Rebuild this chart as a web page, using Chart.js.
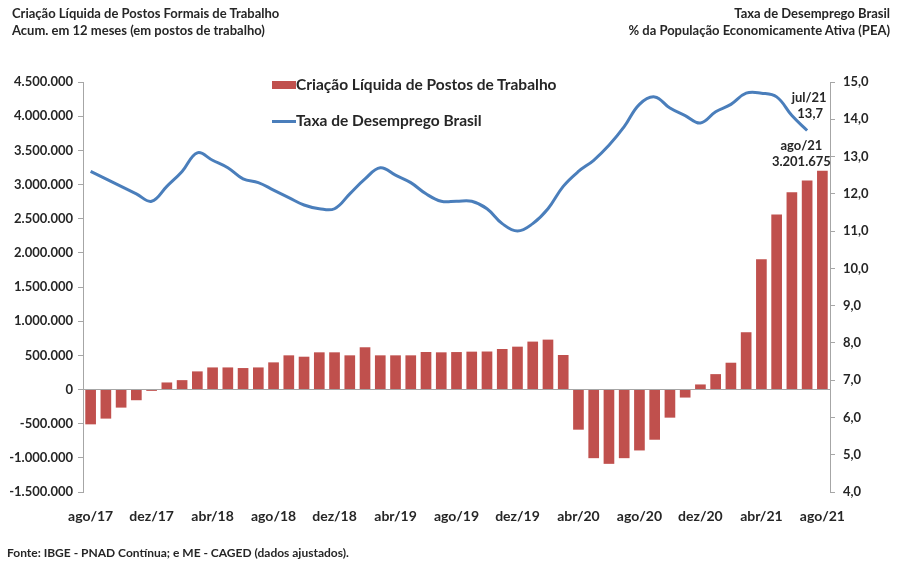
<!DOCTYPE html>
<html>
<head>
<meta charset="utf-8">
<script src="https://cdn.jsdelivr.net/npm/chart.js@4/dist/chart.umd.min.js"></script>
<style>
  body { margin: 0; background: #fff; font-family: Lato, "Open Sans", sans-serif; color: #262626; }
  #wrap { position: relative; width: 898px; height: 561px; }
  canvas { position: absolute; left: 0; top: 0; }
  .txt { position: absolute; font-weight: bold; white-space: nowrap; }
  #titleLeft { left: 12px; top: 5px; font-size: 13px; line-height: 17px; }
  #titleRight { right: 8px; top: 5px; font-size: 13px; line-height: 17px; text-align: right; }
  #footer { left: 7px; top: 545px; font-size: 12px; }
  #legend { left: 272px; top: 75px; font-size: 15.5px; }
  #legend div { height: 36px; display: flex; align-items: flex-start; }
  .box { display: inline-block; width: 24px; height: 8px; background: #c0504d; margin-top: 6px; }
  .ln { display: inline-block; width: 24px; height: 3px; background: #4a7ebb; margin-top: 9px; }
</style>
</head>
<body>
<div id="wrap">
  <canvas id="graphic" width="898" height="561"></canvas>
  <div class="txt" id="titleLeft">Criação Líquida de Postos Formais de Trabalho<br>Acum. em 12 meses (em postos de trabalho)</div>
  <div class="txt" id="titleRight">Taxa de Desemprego Brasil<br>% da População Economicamente Ativa (PEA)</div>
  <div class="txt" id="legend">
    <div><span class="box"></span><span>Criação Líquida de Postos de Trabalho</span></div>
    <div><span class="ln"></span><span>Taxa de Desemprego Brasil</span></div>
  </div>
  <div class="txt" id="footer">Fonte: IBGE - PNAD Contínua; e ME - CAGED (dados ajustados).</div>
</div>
<script>
//months from ago/17 to ago/21
const months = [
  "ago/17","set/17","out/17","nov/17","dez/17",
  "jan/18","fev/18","mar/18","abr/18","mai/18","jun/18","jul/18","ago/18","set/18","out/18","nov/18","dez/18",
  "jan/19","fev/19","mar/19","abr/19","mai/19","jun/19","jul/19","ago/19","set/19","out/19","nov/19","dez/19",
  "jan/20","fev/20","mar/20","abr/20","mai/20","jun/20","jul/20","ago/20","set/20","out/20","nov/20","dez/20",
  "jan/21","fev/21","mar/21","abr/21","mai/21","jun/21","jul/21","ago/21"
];

//net formal jobs, accumulated 12 months (left axis)
const jobs = [
  -510000, -426000, -265000, -157000, -20000,
  103000, 137000, 265000, 323000, 323000, 314000, 323000, 397000, 500000, 480000, 544000, 544000,
  500000, 618000, 500000, 500000, 500000, 549000, 544000, 548000, 554000, 556000, 593000, 627000,
  701000, 730000, 505000, -588000, -1005000, -1088000, -1005000, -892000, -735000, -412000, -118000, 74000,
  225000, 392000, 838000, 1907000, 2561000, 2887000, 3058000, 3201675
];

//unemployment rate % (right axis), ago/17 to jul/21
const unemployment = [
  12.6, 12.4, 12.2, 12.0, 11.8,
  12.2, 12.6, 13.1, 12.9, 12.7, 12.4, 12.3, 12.1, 11.9, 11.7, 11.6, 11.6,
  12.0, 12.4, 12.7, 12.5, 12.3, 12.0, 11.8, 11.8, 11.8, 11.6, 11.2, 11.0,
  11.2, 11.6, 12.2, 12.6, 12.9, 13.3, 13.8, 14.4, 14.6, 14.3, 14.1, 13.9,
  14.2, 14.4, 14.7, 14.7, 14.6, 14.1, 13.7
];

const leftTicks = { min: -1500000, max: 4500000, step: 500000 };
const rightTicks = { min: 4, max: 15, step: 1 };

function formatThousands(v) {
  const s = String(Math.abs(Math.round(v))).replace(/\B(?=(\d{3})+(?!\d))/g, ".");
  return (v < 0 ? "-" : "") + s;
}
function formatRate(v) {
  return v.toFixed(1).replace(".", ",");
}

const axisGray = "#a6a6a6";
const tickFont = { family: "Lato", size: 13, weight: "bold" };

//labels next to the last values
const lastLabels = {
  id: "lastLabels",
  afterDatasetsDraw(chart) {
    const ctx = chart.ctx;
    const lineMeta = chart.getDatasetMeta(1);
    const barMeta = chart.getDatasetMeta(0);
    const li = unemployment.length - 1;
    const bi = jobs.length - 1;
    const p = lineMeta.data[li];
    const b = barMeta.data[bi];
    ctx.save();
    ctx.fillStyle = "#262626";
    ctx.font = "bold 13px Lato";
    ctx.textAlign = "center";
    ctx.textBaseline = "middle";
    ctx.fillText(months[li], p.x + 2, p.y - 33);
    ctx.fillText(formatRate(unemployment[li]), p.x + 3, p.y - 17);
    ctx.fillText(months[bi], b.x - 21, b.y - 25);
    ctx.fillText(formatThousands(jobs[bi]), b.x - 21, b.y - 9);
    ctx.restore();
  }
};

const config = {
  data: {
    labels: months,
    datasets: [{
      type: "bar",
      label: "Criação Líquida de Postos de Trabalho",
      data: jobs,
      backgroundColor: "#c0504d",
      yAxisID: "y",
      categoryPercentage: 1,
      barPercentage: 0.7,
      order: 1
    }, {
      type: "line",
      label: "Taxa de Desemprego Brasil",
      data: unemployment,
      borderColor: "#4a7ebb",
      borderWidth: 3,
      pointRadius: 0,
      tension: 0.4,
      yAxisID: "y1",
      order: 0
    }]
  },
  options: {
    responsive: false,
    animation: false,
    layout: { padding: { top: 82, left: 0, right: 0, bottom: 0 } },
    plugins: { legend: { display: false }, tooltip: { enabled: false } },
    scales: {
      x: {
        offset: true,
        grid: { display: false },
        border: { display: false },
        ticks: {
          autoSkip: false,
          maxRotation: 0,
          padding: 8,
          color: "#262626",
          font: { family: "Lato", size: 14, weight: "bold" },
          callback: (v, i) => (i % 4 === 0 ? months[i] : "")
        },
        afterFit: s => { s.height = 69; }
      },
      y: {
        position: "left",
        min: leftTicks.min,
        max: leftTicks.max,
        ticks: { stepSize: leftTicks.step, color: "#262626", font: tickFont, padding: 5, callback: v => formatThousands(v) },
        grid: {
          drawOnChartArea: true,
          tickLength: 5,
          tickColor: axisGray,
          color: c => (c.tick && c.tick.value === 0 ? axisGray : "rgba(0,0,0,0)")
        },
        border: { color: axisGray },
        afterFit: s => { s.width = 83; }
      },
      y1: {
        position: "right",
        min: rightTicks.min,
        max: rightTicks.max,
        ticks: { stepSize: rightTicks.step, color: "#262626", font: tickFont, padding: 8, callback: v => formatRate(v) },
        grid: { drawOnChartArea: false, tickLength: 5, tickColor: axisGray },
        border: { color: axisGray },
        afterFit: s => { s.width = 68; }
      }
    }
  },
  plugins: [lastLabels]
};

new Chart(document.getElementById("graphic"), config);
</script>
</body>
</html>
